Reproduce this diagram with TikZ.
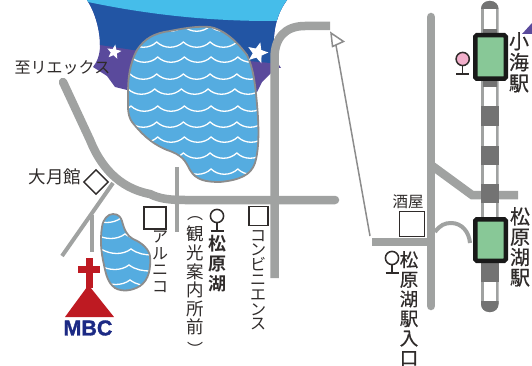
\documentclass[tikz,border=0pt]{standalone}
\usepackage{fontspec}
\setmainfont{Noto Sans CJK JP}
\newfontfamily\jpbold{Noto Sans CJK JP Bold}
\newfontfamily\jpmed[FakeBold=0.5]{Noto Sans CJK JP}
\newfontfamily\mbcfont[BoldFeatures={FakeBold=1.4}]{Liberation Sans}
\usetikzlibrary{shapes.geometric,calc}
\definecolor{roadc}{HTML}{A0A2A1}
\definecolor{skya}{HTML}{45BDEA}
\definecolor{skyb}{HTML}{2255A4}
\definecolor{skyc}{HTML}{5A4A9C}
\definecolor{lakec}{HTML}{55ACE0}
\definecolor{shorec}{HTML}{8C8C8C}
\definecolor{churchc}{HTML}{BE1A22}
\definecolor{navyc}{HTML}{1C2A84}
\definecolor{stationc}{HTML}{88C897}
\definecolor{blockc}{HTML}{737373}
\definecolor{inkc}{HTML}{2F2B2A}
\definecolor{pinkc}{HTML}{F2AFCB}
\tikzset{
  x=1pt,y=-1pt,
  road/.style={draw=roadc,line width=8.5pt,line cap=round},
  flatroad/.style={draw=roadc,line width=8.5pt,line cap=butt},
  lane/.style={draw=roadc,line width=4pt,line cap=butt},
  shore/.style={draw=shorec,line width=1.8pt},
  wave/.style={draw=white,line width=1.3pt,line cap=round},
  shopbox/.style={draw=inkc,fill=white,line width=1.4pt,minimum width=#1,minimum height=#1,inner sep=0pt},
  lbl/.style={text=inkc,inner sep=0pt,align=center},
  starm/.style={star,star points=5,star point ratio=2.3,fill=white,inner sep=0pt,minimum size=#1},
  stationbox/.style={draw=black!90,fill=stationc,line width=4.5pt,rounded corners=1.5pt,minimum width=30.5pt,inner sep=0pt},
}
\newcommand{\jpsize}[1]{\fontsize{#1}{#1}\selectfont}
\newcommand{\marker}[3]{% x,y,fill
  \draw[inkc,line width=1.5pt,fill=#3] (#1,#2) circle (6.6pt);
  \draw[inkc,line width=1.5pt] (#1,#2+6.6) -- (#1,#2+15);
  \draw[inkc,line width=1.5pt] (#1-6.5,#2+15) -- (#1+6.5,#2+15);
}
\newcommand{\bigshape}{(210,27) .. controls (222,29) and (235,39) .. (247,55) .. controls (253,68) and (255,80) .. (257.5,110) .. controls (259,130) and (259,150) .. (255,163) .. controls (251,175) and (240,180) .. (220,182) .. controls (205,182) and (196,180) .. (190,170) .. controls (185,160) and (182,155) .. (167,150) .. controls (150,143) and (140,132) .. (132,122) .. controls (127,115) and (128,105) .. (128,95) .. controls (128,80) and (129,65) .. (137,50) .. controls (145,38) and (155,33) .. (170,31) .. controls (185,28) and (198,26) .. (210,27) -- cycle}
\newcommand{\smallshape}{(113,214) .. controls (119,214) and (121,218) .. (122,221) .. controls (124,229) and (127,236) .. (133,239) .. controls (143,243) and (149,250) .. (150,256) .. controls (151,268) and (149,280) .. (140,286) .. controls (132,291) and (122,292) .. (115,288) .. controls (108,283) and (106,275) .. (104,265) .. controls (101,252) and (100,240) .. (102,227) .. controls (103,219) and (108,214) .. (113,214) -- cycle}
\begin{document}
\begin{tikzpicture}
\useasboundingbox (0,0) rectangle (532,366);
% sky
\begin{scope}
  \clip (87,0) .. controls (95,12) and (100,30) .. (100,45) .. controls (100,55) and (97,62) .. (93,67) -- (107,76) -- (115,87) -- (135,92) -- (257,92) -- (262,82) -- (276,68) .. controls (272,45) and (272,20) .. (287,0) -- cycle;
  \fill[skyc] (80,0) rectangle (290,95);
  \fill[skyb] (80,0) -- (290,0) -- (290,65) -- (270,63) -- (133,50) -- (100,45) -- (80,40) -- cycle;
  \fill[skya] (80,0) -- (290,0) -- (290,21) -- (270,21) .. controls (210,21) and (150,15) .. (88,2) -- cycle;
\end{scope}
\fill[skyc] (277,62) -- (281,68) -- (274,68) -- cycle;
\fill[skyc] (532,23) -- (522,34) -- (532,34) -- cycle;
% big lake
\fill[lakec] \bigshape;
\begin{scope}
  \clip \bigshape;
  \foreach \ry/\dx in {26/0,42/0,57/1,74/0,89/-2,106/1,122/0,137/1,153/0,169/1} {
    \foreach \k in {-2,...,4} {
      \draw[wave] ({156.7+26.7*\k+\dx},\ry) .. controls ({164+26.7*\k+\dx},{\ry+7}) and ({176+26.7*\k+\dx},{\ry+7}) .. ({183.4+26.7*\k+\dx},\ry);
    }
  }
\end{scope}
\draw[shore] \bigshape;
% small lake
\fill[lakec] \smallshape;
\begin{scope}
  \clip \smallshape;
  \foreach \ry/\cx in {218/121,234/125,249/131,265/129,280/130} {
    \draw[wave] (\cx-30,\ry) .. controls (\cx-20,\ry+6) and (\cx-8,\ry+6) .. (\cx,\ry);
    \draw[wave] (\cx,\ry) .. controls (\cx+7,\ry+5) and (\cx+14,\ry+6) .. (\cx+22,\ry+6);
  }
\end{scope}
\draw[shore] \smallshape;
% stars
\node[starm=15pt,rotate=-10] (starA) at (114,52) {};
\node[starm=22pt,rotate=-15] (starB) at (257.5,53) {};
% road end points
\coordinate (wTop) at (63,82);
\coordinate (mainEnd) at (335,200);
\coordinate (sideTop) at (176.5,167);
\coordinate (sideBot) at (176.5,232);
\coordinate (forkA) at (113,183);
\coordinate (forkB) at (62,256);
\coordinate (stemA) at (92,215);
\coordinate (stemB) at (92,252);
\coordinate (uBot) at (274.5,278);
\coordinate (uEnd) at (330,26);
\coordinate (arrowFoot) at (370,236);
\coordinate (arrowTip) at (334.5,37);
\coordinate (spurA) at (372,242);
\coordinate (spurB) at (431,242);
\coordinate (trunkTop) at (431,17);
\coordinate (trunkBot) at (431,306);
\coordinate (brA) at (431,165);
\coordinate (brB) at (472,195);
\coordinate (brC) at (518,195);
\coordinate (hookA) at (435,232);
\coordinate (hookB) at (470,242);
% roads
\draw[lane] (forkA) -- (forkB);
\draw[lane] (stemA) -- (stemB);
\draw[lane] (sideTop) -- (sideBot);
\draw[road,line cap=round] (wTop) -- (90,140) .. controls (100,165) and (118,188) .. (150,194) .. controls (160,199) and (170,200) .. (185,200) -- (mainEnd);
\draw[flatroad] (uBot) -- (274.5,58) .. controls (274.5,38) and (285,26) .. (305,26) -- (uEnd);
\draw[flatroad] (spurA) -- (spurB);
\draw[road] (trunkTop) -- (trunkBot);
\draw[flatroad,line join=miter] (brA) -- (brB) -- (brC);
\draw[lane] (hookA) .. controls (440,225) and (445,223) .. (451,223) .. controls (462,223) and (469,232) .. (470,243);
% arrow
\draw[draw=shorec,line width=1.5pt] (arrowFoot) -- (arrowTip);
\draw[draw=shorec,fill=white,line width=1.5pt,line join=miter] (331,33) -- (343.5,41.5) -- (332.5,46.5) -- cycle;
% rail
\fill[roadc,rounded corners=8pt] (481,1) rectangle (498.5,312);
\fill[blockc] (482.5,29) rectangle (497,33);
\fill[blockc] (482.5,81) rectangle (497,87);
\foreach \ya/\yb in {9/29,87/106,126/146,165/184,203/217,282/301} {
  \fill[white] (483.5,\ya) rectangle (496,\yb);
}
\foreach \ya/\yb in {106/126,146/165,184/203,263/282} {
  \fill[blockc] (481,\ya) rectangle (498.5,\yb);
}
\begin{scope}
  \clip (480,301) rectangle (500,313);
  \fill[blockc,rounded corners=8pt] (481,280) rectangle (498.5,312);
\end{scope}
\begin{scope}
  \clip (480,0) rectangle (500,9);
  \fill[blockc,rounded corners=8pt] (481,1) rectangle (498.5,30);
\end{scope}
\node[stationbox,minimum height=43.5pt] (stationA) at (490.5,57) {};
\node[stationbox,minimum height=41.5pt] (stationB) at (490.5,240) {};
% markers
\marker{462.7}{59}{pinkc}
\marker{217}{216}{white}
\marker{392}{258}{white}
% shops
\node[shopbox=22pt] (shopArnico) at (155,218) {};
\node[shopbox=19pt] (shopConv) at (258.5,216) {};
\node[shopbox=25pt] (shopSake) at (412,224) {};
\node[diamond,draw=inkc,fill=white,line width=1.4pt,minimum width=25pt,minimum height=25pt,inner sep=0pt] (shopOtsuki) at (96,182) {};
% church
\fill[churchc] (85.8,258) rectangle (92.8,288);
\fill[churchc] (78,266) rectangle (100,273);
\fill[churchc] (88.5,285) -- (65,317) -- (114,317) -- cycle;
\node[inner sep=0pt,text=navyc] (mbc) at (88,328) {\mbcfont\bfseries\fontsize{21.5}{21.5}\selectfont MBC};
% labels
\node[lbl,font=\jpsize{16}] (lbA) at (62.5,68) {至リエックス};
\node[lbl,font=\jpsize{17.5}] (lbB) at (55,177) {大月館};
\node[lbl,font=\jpsize{15.5}] (lbC) at (408,202) {酒屋};
\node[lbl,anchor=north,font=\fontsize{16}{16.5}\selectfont] (lbD) at (160,231) {ア\\ル\\ニ\\コ};
\node[lbl,font=\jpsize{16}] (lbEa) at (195,219) {︵};
\node[lbl,anchor=north,font=\fontsize{17.5}{18.6}\selectfont] (lbE) at (195.5,226) {観\\光\\案\\内\\所\\前};
\node[lbl,font=\jpsize{16}] (lbEb) at (195,349) {︶};
\node[lbl,anchor=north,font={\fontsize{18}{20}\selectfont\jpbold}] (lbF) at (217,235) {松\\原\\湖};
\node[lbl,anchor=north,font=\fontsize{16}{14.8}\selectfont] (lbG) at (258,230) {コ\\ン\\ビ\\ニ\\エ\\ン\\ス};
\node[lbl,anchor=north,font={\fontsize{18.5}{19.6}\selectfont\jpmed}] (lbH) at (409,251) {松\\原\\湖\\駅\\入\\口};
\node[lbl,anchor=north,font={\fontsize{20}{21}\selectfont\jpmed}] (lbI) at (519,32) {小\\海\\駅};
\node[lbl,anchor=north,font={\fontsize{20}{20.3}\selectfont\jpmed}] (lbJ) at (520,207) {松\\原\\湖\\駅};
\end{tikzpicture}
\end{document}
